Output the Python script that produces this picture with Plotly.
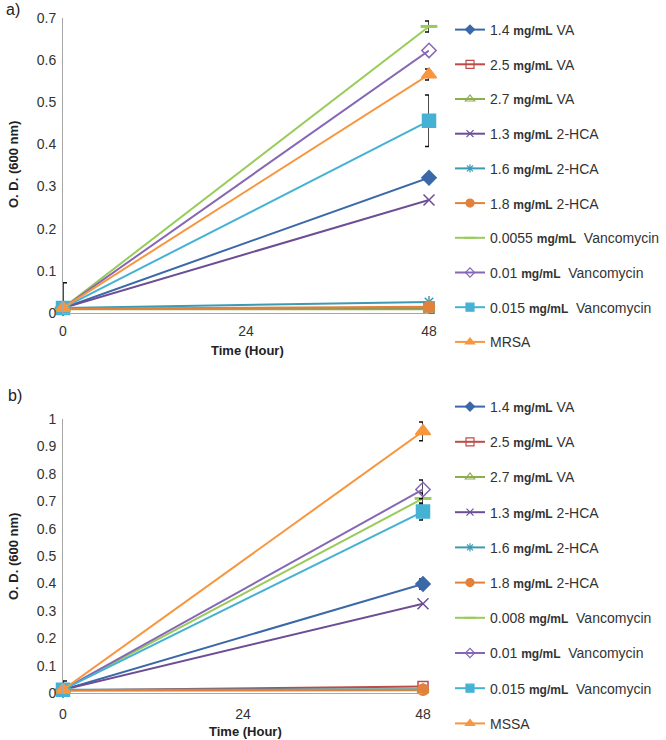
import plotly.graph_objects as go

time = [0, 48]

labels_a = ["1.4 mg/mL VA", "2.5 mg/mL VA", "2.7 mg/mL VA", "1.3 mg/mL 2-HCA", "1.6 mg/mL 2-HCA",
            "1.8 mg/mL 2-HCA", "0.0055 mg/mL  Vancomycin", "0.01 mg/mL  Vancomycin",
            "0.015 mg/mL  Vancomycin", "MRSA"]
labels_b = ["1.4 mg/mL VA", "2.5 mg/mL VA", "2.7 mg/mL VA", "1.3 mg/mL 2-HCA", "1.6 mg/mL 2-HCA",
            "1.8 mg/mL 2-HCA", "0.008 mg/mL  Vancomycin", "0.01 mg/mL  Vancomycin",
            "0.015 mg/mL  Vancomycin", "MSSA"]

# panel a values (O.D. 600 nm) at 0 h and 48 h
va14_a = [0.012, 0.321]
va25_a = [0.010, 0.011]
va27_a = [0.009, 0.009]
hca13_a = [0.012, 0.268]
hca16_a = [0.012, 0.026]
hca18_a = [0.010, 0.015]
van1_a = [0.012, 0.680]
van2_a = [0.012, 0.623]
van3_a = [0.012, 0.456]
ctrl_a = [0.012, 0.566]
err_a = [[0, 0], [0, 0], [0, 0], [0, 0], [0, 0], [0, 0], [0, 0.013], [0, 0], [0.060, 0.061], [0, 0.013]]

# panel b values
va14_b = [0.012, 0.398]
va25_b = [0.010, 0.024]
va27_b = [0.009, 0.010]
hca13_b = [0.012, 0.326]
hca16_b = [0.012, 0.014]
hca18_b = [0.010, 0.012]
van1_b = [0.012, 0.710]
van2_b = [0.012, 0.743]
van3_b = [0.012, 0.662]
ctrl_b = [0.012, 0.955]
err_b = [[0, 0.018], [0, 0], [0, 0], [0, 0], [0, 0], [0, 0], [0, 0.02], [0, 0.034], [0, 0.031], [0.032, 0.034]]

series_a = [va14_a, va25_a, va27_a, hca13_a, hca16_a, hca18_a, van1_a, van2_a, van3_a, ctrl_a]
series_b = [va14_b, va25_b, va27_b, hca13_b, hca16_b, hca18_b, van1_b, van2_b, van3_b, ctrl_b]

colors = ["#3B68A8", "#BE4B48", "#8BAE4F", "#6C4E95", "#3D9AB3", "#E0823C",
          "#98CC58", "#8667B5", "#46B2D3", "#F7963F"]
symbols = ["diamond", "square-open", "triangle-up-open", "x-thin", "asterisk", "circle",
           "line-ew", "diamond-open", "square", "triangle-up"]
sizes = [11, 10, 10, 11, 10, 11, 12, 11, 13, 13]
leg_sizes = [7, 8, 8, 7, 7, 8, 8, 7, 8, 8]

FONT = "Liberation Sans, Arial, sans-serif"
W, H = 666, 740


def px(x):
    return x / W


def py(y):
    return 1 - y / H


def fmt(lbl):
    return lbl.replace("mg/mL", "<span style='font-size:12px'><b>mg/mL</b></span>")


def mline(sym, col):
    return dict(color=col, width=3 if sym == "line-ew" else 1.5)


fig = go.Figure()
for panel, (series, labels, errs) in enumerate([(series_a, labels_a, err_a), (series_b, labels_b, err_b)]):
    xa = "x" if panel == 0 else "x2"
    ya = "y" if panel == 0 else "y2"
    leg = "legend" if panel == 0 else "legend2"
    for i, (vals, lbl, e) in enumerate(zip(series, labels, errs)):
        has_err = any(v > 0 for v in e)
        fig.add_trace(go.Scatter(
            x=time, y=vals, name=fmt(lbl), mode="lines+markers",
            xaxis=xa, yaxis=ya, showlegend=False,
            line=dict(color=colors[i], width=2),
            marker=dict(symbol=symbols[i], size=sizes[i], color=colors[i], line=mline(symbols[i], colors[i])),
            error_y=dict(type="data", symmetric=False, array=e,
                         arrayminus=[min(ev, yv) for ev, yv in zip(e, vals)],
                         color="#111111", thickness=1.5, width=4, visible=has_err),
            cliponaxis=False,
        ))
        # legend entry (small marker like the reference legend)
        fig.add_trace(go.Scatter(
            x=[None], y=[None], name=fmt(lbl), mode="lines+markers",
            xaxis=xa, yaxis=ya, legend=leg, legendgroup=f"{panel}-{i}", showlegend=True,
            line=dict(color=colors[i], width=2),
            marker=dict(symbol=symbols[i], size=leg_sizes[i], color=colors[i],
                        line=dict(color=colors[i], width=1.2 if symbols[i] != "line-ew" else 2)),
        ))

axis_common = dict(showgrid=False, zeroline=False, showline=True, linecolor="#A6A6A6", linewidth=1,
                   ticks="", tickfont=dict(family=FONT, size=14, color="#333333"), automargin=False)

title_font = dict(family=FONT, size=13, color="#222222")

fig.update_layout(
    width=W, height=H,
    margin=dict(l=0, r=0, t=0, b=0),
    paper_bgcolor="white", plot_bgcolor="white",
    showlegend=True,
    xaxis=dict(domain=[px(63), px(429)], range=[0, 48], tickvals=[0, 24, 48], anchor="y",
               ticklabelstandoff=5, **axis_common),
    yaxis=dict(domain=[py(313), py(18)], range=[0, 0.7], dtick=0.1, anchor="x",
               tickformat="~g", ticklabelstandoff=3, **axis_common),
    xaxis2=dict(domain=[px(63), px(423)], range=[0, 48], tickvals=[0, 24, 48], anchor="y2",
                ticklabelstandoff=8, **axis_common),
    yaxis2=dict(domain=[py(693), py(419)], range=[0, 1], dtick=0.1, anchor="x2",
                tickformat="~g", ticklabelstandoff=3, **axis_common),
    legend=dict(x=px(450), y=py(14), xanchor="left", yanchor="top", tracegroupgap=13.5,
                font=dict(family=FONT, size=14, color="#333333"), bgcolor="rgba(0,0,0,0)"),
    legend2=dict(x=px(450), y=py(391), xanchor="left", yanchor="top", tracegroupgap=14,
                 font=dict(family=FONT, size=14, color="#333333"), bgcolor="rgba(0,0,0,0)"),
    annotations=[
        dict(text="a)", x=px(4), y=py(10), xref="paper", yref="paper", showarrow=False,
             font=dict(family=FONT, size=16, color="#222222"), xanchor="left", yanchor="middle"),
        dict(text="b)", x=px(6), y=py(395), xref="paper", yref="paper", showarrow=False,
             font=dict(family=FONT, size=16, color="#222222"), xanchor="left", yanchor="middle"),
        dict(text="<b>O. D. (600 nm)</b>", x=px(13), y=py(165), xref="paper", yref="paper",
             showarrow=False, textangle=-90, font=title_font, xanchor="center", yanchor="middle"),
        dict(text="<b>O. D. (600 nm)</b>", x=px(13), y=py(557), xref="paper", yref="paper",
             showarrow=False, textangle=-90, font=title_font, xanchor="center", yanchor="middle"),
        dict(text="<b>Time (Hour)</b>", x=px(247), y=py(350), xref="paper", yref="paper",
             showarrow=False, font=title_font, xanchor="center", yanchor="middle"),
        dict(text="<b>Time (Hour)</b>", x=px(245), y=py(731), xref="paper", yref="paper",
             showarrow=False, font=title_font, xanchor="center", yanchor="middle"),
    ],
)

fig.write_html("out.html", config={"displayModeBar": False},
               post_script="document.body.style.margin='0';")
